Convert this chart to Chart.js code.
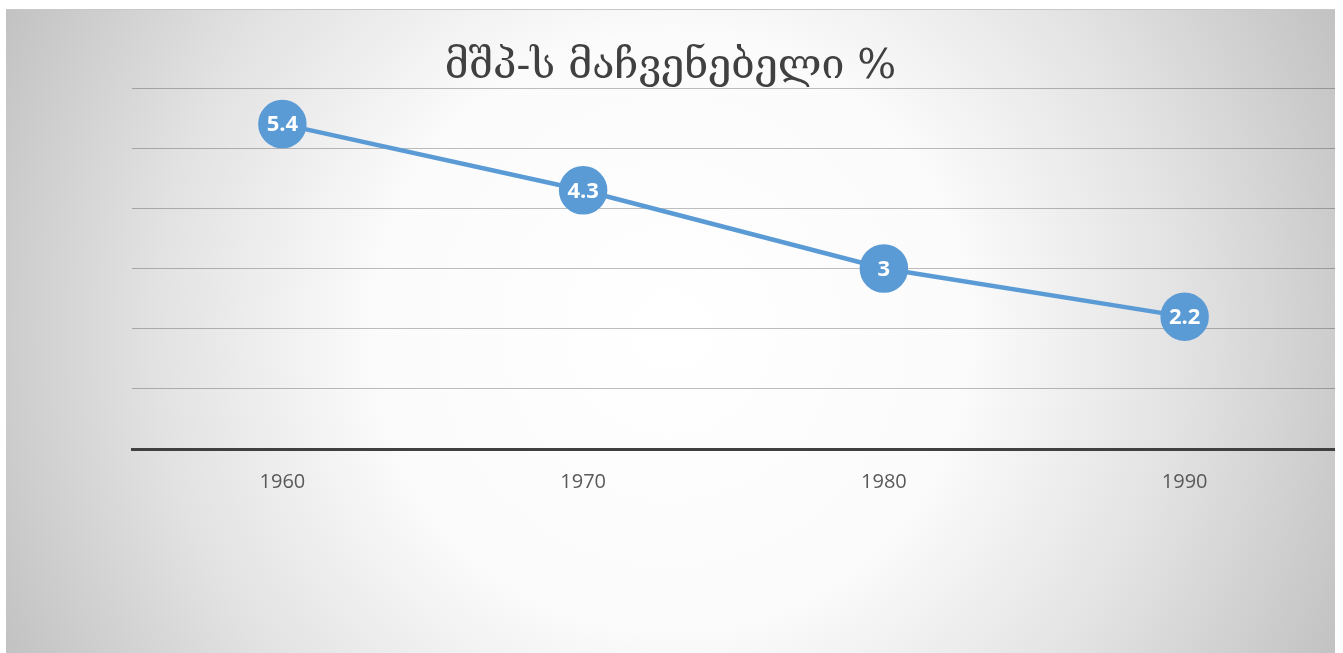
<!DOCTYPE html>
<html>
<head>
<meta charset="utf-8">
<script src="https://cdn.jsdelivr.net/npm/chart.js@4"></script>
<style>
  html, body { margin: 0; background: #fff; overflow: hidden; }
  #wrap {
    position: absolute; left: 6px; top: 9px; width: 1329px; height: 644px;
    box-sizing: border-box;
    background: radial-gradient(circle farthest-corner at 50% 50%, #ffffff 0%, #fbfbfb 40%, #e2e2e2 70%, #c2c2c2 100%);
    border-top: 1px solid #c8c8c8;
  }
  #chart { position: absolute; left: 0; top: -1px; }
</style>
</head>
<body>
<div id="wrap"><canvas id="chart" width="1329" height="644"></canvas></div>
<script>
// Title
const chartTitle = 'მშპ-ს მაჩვენებელი %';

// Categories (years)
const years = ['1960', '1970', '1980', '1990'];

// GDP values
const gdpValues = [5.4, 4.3, 3, 2.2];

// Y axis range
const yMin = 0;
const yMax = 6;
const yStep = 1;

const blue = '#5B9BD5';

// draws the value inside each point
const pointLabels = {
    id: 'pointLabels',
    afterDatasetsDraw(chart) {
        const c = chart.ctx;
        const meta = chart.getDatasetMeta(0);
        c.save();
        c.fillStyle = '#ffffff';
        c.font = 'bold 22px "Open Sans", sans-serif';
        c.textAlign = 'center';
        c.textBaseline = 'middle';
        meta.data.forEach((pt, i) => {
            c.fillText(String(gdpValues[i]), pt.x, pt.y + 1);
        });
        c.restore();
    }
};

new Chart(document.getElementById('chart'), {
    type: 'line',
    data: {
        labels: years,
        datasets: [{
            data: gdpValues,
            borderColor: blue,
            backgroundColor: blue,
            borderWidth: 4.5,
            pointRadius: 22,
            pointHoverRadius: 22,
            pointBackgroundColor: blue,
            pointBorderColor: blue,
            tension: 0
        }]
    },
    options: {
        responsive: false,
        animation: false,
        layout: { padding: 0, autoPadding: false },
        plugins: {
            legend: { display: false },
            tooltip: { enabled: false },
            title: {
                display: true,
                text: chartTitle,
                color: '#404040',
                font: { family: '"DejaVu Serif", "DejaVu Sans", serif', size: 41, weight: 'normal', lineHeight: 1 },
                padding: { top: 38, bottom: 0 }
            }
        },
        scales: {
            x: {
                offset: true,
                grid: { display: false, drawTicks: false },
                border: { color: '#404040', width: 3 },
                ticks: {
                    color: '#595959',
                    font: { family: '"Open Sans", sans-serif', size: 20 },
                    padding: 21
                },
                afterFit(s) {
                    s.height = 204;
                    s.paddingLeft = 0;
                    s.paddingRight = 0;
                }
            },
            y: {
                min: yMin,
                max: yMax,
                ticks: { display: false, stepSize: yStep },
                grid: { color: 'rgba(0,0,0,0.25)', lineWidth: 1, drawTicks: false },
                border: { display: false },
                afterFit(s) { s.width = 126; }
            }
        }
    },
    plugins: [pointLabels]
});
</script>
</body>
</html>
